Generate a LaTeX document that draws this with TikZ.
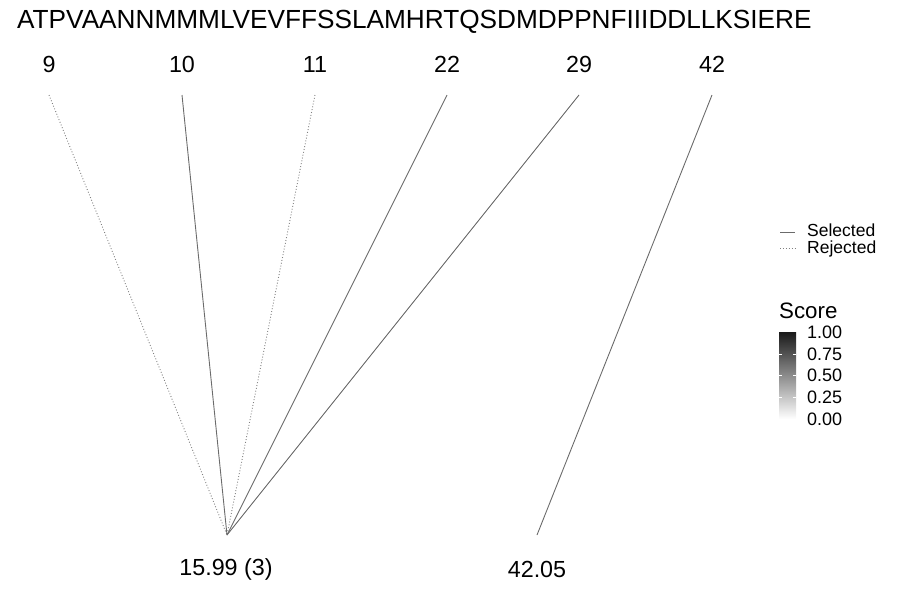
\documentclass[tikz,border=0pt]{standalone}
\usepackage{fontspec}
\setmainfont{Liberation Sans}
\begin{document}
\begin{tikzpicture}[x=1pt,y=-1pt,
  lab/.style={font=\fontsize{23.3}{26}\selectfont, inner sep=0pt},
  seltd/.style={draw=black!58, line width=0.9pt},
  rejd/.style={draw=black!50, line width=0.9pt, dotted},
  leg/.style={font=\fontsize{17.5}{19}\selectfont, inner sep=0pt, anchor=west},
  tick/.style={font=\fontsize{18}{20}\selectfont, inner sep=0pt, anchor=west}]
\useasboundingbox (0,0) rectangle (900,600);
\node[font=\fontsize{26.2}{29}\selectfont, inner sep=0pt, anchor=west] (seq) at (17,22) {ATPVAANNMMMLVEVFFSSLAMHRTQSDMDPPNFIIIDDLLKSIERE};
\node[lab] (n9) at (49,64) {9};
\node[lab] (n10) at (182,64) {10};
\node[lab] (n11) at (315,64) {11};
\node[lab] (n22) at (447,64) {22};
\node[lab] (n29) at (579,64) {29};
\node[lab] (n42) at (712,64) {42};
\coordinate (t9) at (49,95);
\coordinate (t10) at (182,95);
\coordinate (t11) at (315,95);
\coordinate (t22) at (447,95);
\coordinate (t29) at (579,95);
\coordinate (t42) at (712,95);
\coordinate (b1) at (227,535);
\coordinate (b2) at (537,535);
\draw[rejd] (t9) -- (b1);
\draw[seltd] (t10) -- (b1);
\draw[rejd] (t11) -- (b1);
\draw[seltd] (t22) -- (b1);
\draw[seltd] (t29) -- (b1);
\draw[seltd] (t42) -- (b2);
\node[lab] (m1) at (226,569) {15.99 (3)};
\node[lab] (m2) at (537,569) {42.05};
% legend
\coordinate (ls1) at (780,232);
\coordinate (ls2) at (795,232);
\coordinate (lr1) at (780,248);
\coordinate (lr2) at (795,248);
\draw[seltd] (ls1) -- (ls2);
\draw[rejd] (lr1) -- (lr2);
\node[leg] (lsel) at (807,230.5) {Selected};
\node[leg] (lrej) at (807,248.5) {Rejected};
\node[font=\fontsize{22.3}{24}\selectfont, inner sep=0pt, anchor=west] (score) at (779,311) {Score};
\shade[top color=black!90, bottom color=white] (779,332) rectangle (796,419);
\foreach \yy in {353.75,375.5,397.25} {
  \draw[white, line width=0.5pt] (779,\yy) -- (782,\yy);
  \draw[white, line width=0.5pt] (793,\yy) -- (796,\yy);
}
\node[tick] (s100) at (807,332) {1.00};
\node[tick] (s075) at (807,354) {0.75};
\node[tick] (s050) at (807,375.5) {0.50};
\node[tick] (s025) at (807,397) {0.25};
\node[tick] (s000) at (807,419) {0.00};
\end{tikzpicture}
\end{document}
